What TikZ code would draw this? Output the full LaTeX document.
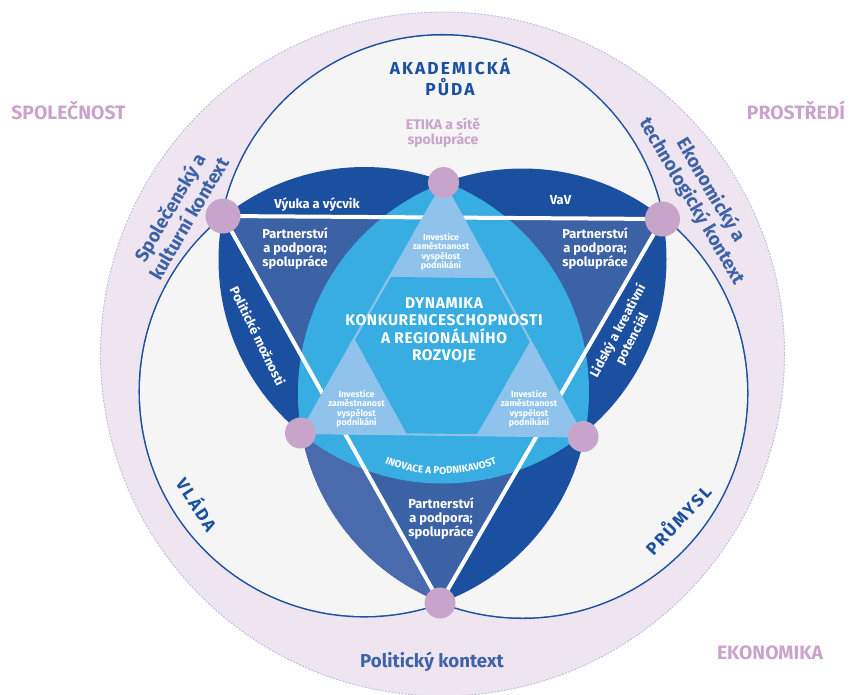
\documentclass[tikz,border=0pt]{standalone}
\usepackage{fontspec}
\setmainfont{Fira Sans}
\usetikzlibrary{calc,decorations.text}
\definecolor{dkb}{HTML}{1B4F9F}
\definecolor{mdb}{HTML}{3C62A6}
\definecolor{llb}{HTML}{4A6AAE}
\definecolor{cyanb}{HTML}{38ADE2}
\definecolor{trib}{HTML}{8FC3EB}
\definecolor{pinkn}{HTML}{C7A5CB}
\definecolor{lav}{HTML}{EFE5F1}
\definecolor{lavtxt}{HTML}{C9A3CC}
\definecolor{grayf}{HTML}{F5F5F5}
\definecolor{dashc}{HTML}{B9C3DF}
\definecolor{ctxc}{HTML}{3D62A6}
\newcommand{\myfs}[2]{\fontsize{#1}{#2}\selectfont}
\begin{document}
\begin{tikzpicture}[x=0.75pt,y=-0.75pt,
  ringtxt/.style={font=\bfseries\myfs{14.5}{16}, text=lavtxt, inner sep=0pt},
  bigtxt/.style={font=\bfseries\myfs{13}{15.75}\addfontfeatures{LetterSpace=12}, text=dkb, align=center, inner sep=0pt},
  ctxtxt/.style={font=\bfseries\myfs{14}{16.3}, text=ctxc, align=center, inner sep=0pt},
  wtxt/.style={font=\bfseries\myfs{9.7}{10.5}, text=white, align=center, inner sep=0pt},
  invtxt/.style={font=\bfseries\myfs{6.6}{7.1}, text=white, align=center, inner sep=0pt},
  dyntxt/.style={font=\bfseries\myfs{11.6}{13.1}\addfontfeatures{LetterSpace=4}, text=white, align=center, inner sep=0pt},
  etxt/.style={font=\bfseries\myfs{10.5}{11}, text=lavtxt, align=center, inner sep=0pt},
  bigdot/.style={circle, fill=pinkn, inner sep=0pt, minimum size=26.25pt},
  smalldot/.style={circle, fill=pinkn, inner sep=0pt, minimum size=23.25pt},
  wline/.style={draw=white, line width=3pt},
]
\useasboundingbox (0,0) rectangle (849,694);
% geometry
\coordinate (cA) at (442.5,259.5);
\coordinate (cV) at (364.5,391.5);
\coordinate (cP) at (522.5,393);
\def\RA{224}
\def\RV{224.5}
\def\RP{224.5}
\coordinate (oL) at (223,216);
\coordinate (oR) at (662.5,219);
\coordinate (oB) at (440,603);
\coordinate (iT) at (443.5,182.5);
\coordinate (iL) at (300.5,433);
\coordinate (iR) at (583,436.5);
\def\f{0.377}
% outer lavender disk
\draw[fill=lav, draw=dashc, line width=0.7pt, dash pattern=on 1.5pt off 1pt] (442.5,354) circle[radius=342];
% envelope of three circles
\draw[dkb, line width=2.3pt] (cA) circle[radius=\RA];
\draw[dkb, line width=2.3pt] (cV) circle[radius=\RV];
\draw[dkb, line width=2.3pt] (cP) circle[radius=\RP];
\fill[grayf] (cA) circle[radius=\RA];
\fill[grayf] (cV) circle[radius=\RV];
\fill[grayf] (cP) circle[radius=\RP];
% pairwise intersections (dark)
\begin{scope}
  \clip (cA) circle[radius=\RA];
  \fill[dkb] (cV) circle[radius=\RV];
  \fill[dkb] (cP) circle[radius=\RP];
\end{scope}
\begin{scope}
  \clip (cV) circle[radius=\RV];
  \fill[dkb] (cP) circle[radius=\RP];
\end{scope}
% lower-left piece
\begin{scope}
  \clip (cV) circle[radius=\RV];
  \clip (cP) circle[radius=\RP];
  \fill[llb] (oL) -- (oB) -- (440,700) -- (100,700) -- (100,216) -- cycle;
\end{scope}
% medium regions inside the white triangle
\begin{scope}
  \clip (oL) -- (oR) -- (oB) -- cycle;
  \begin{scope}
    \clip (cA) circle[radius=\RA];
    \fill[mdb] (cV) circle[radius=\RV];
    \fill[mdb] (cP) circle[radius=\RP];
  \end{scope}
  \begin{scope}
    \clip (cV) circle[radius=\RV];
    \fill[mdb] (cP) circle[radius=\RP];
  \end{scope}
\end{scope}
% triple intersection
\begin{scope}
  \clip (cA) circle[radius=\RA];
  \clip (cV) circle[radius=\RV];
  \fill[cyanb] (cP) circle[radius=\RP];
\end{scope}
% white triangle
\draw[wline] (oL) -- (oR) -- (oB) -- cycle;
% inner triangle
\fill[trib] (iT) -- (iL) -- (iR) -- cycle;
\fill[cyanb] ($(iT)!\f!(iL)$) -- ($(iT)!1-\f!(iL)$) -- ($(iL)!\f!(iR)$) -- ($(iL)!1-\f!(iR)$) -- ($(iR)!\f!(iT)$) -- ($(iR)!1-\f!(iT)$) -- cycle;
\draw[trib, line width=1.6pt, line join=round] (iT) -- (iL) -- (iR) -- cycle;
% dots
\node[bigdot] (dL) at (oL) {};
\node[bigdot] (dR) at (oR) {};
\node[smalldot] (dB) at (oB) {};
\node[smalldot] (dT) at (iT) {};
\node[smalldot] (dIL) at (iL) {};
\node[smalldot] (dIR) at (iR) {};
% outer labels
\node[ringtxt] (tSpol) at (68.5,110.5) {SPOLEČNOST};
\node[ringtxt] (tPros) at (796,110.5) {PROSTŘEDÍ};
\node[ringtxt] (tEkon) at (770,653) {EKONOMIKA};
% sector labels
\node[bigtxt] (tAka) at (450,77) {AKADEMICKÁ\\PŮDA};
\node[bigtxt, rotate=-57] (tVla) at (198,504) {VLÁDA};
\node[bigtxt, rotate=47] (tPru) at (677,519) {PRŮMYSL};
\node[etxt] (tEti) at (443,132.5) {ETIKA a sítě\\spolupráce};
% context labels
\node[ctxtxt, rotate=59.5] (tSk) at (179,212.5) {Společenský a\\kulturní kontext};
\node[ctxtxt, rotate=-59.5] (tEk) at (701.5,196) {Ekonomický a\\technologický kontext};
\node[ctxtxt] (tPk) at (432,662) {Politický kontext};
% band labels
\node[wtxt] (tVyu) at (317,204.5) {Výuka a výcvik};
\node[wtxt] (tVaV) at (560.5,200.5) {VaV};
\node[wtxt, rotate=-64] (tPol) at (258,336) {Politické možnosti};
\node[wtxt, rotate=62, font=\bfseries\myfs{9.7}{12}] (tLid) at (625,335) {Lidský a kreativní\\potenciál};
\node[wtxt] (tP1) at (295,249) {Partnerství\\a podpora;\\spolupráce};
\node[wtxt] (tP2) at (595,249) {Partnerství\\a podpora;\\spolupráce};
\node[wtxt] (tP3) at (441,519) {Partnerství\\a podpora;\\spolupráce};
% triangle labels
\node[invtxt] (tI1) at (441,252) {Investice\\zaměstnanost\\vyspělost\\podnikání};
\node[invtxt] (tI2) at (356.5,409) {Investice\\zaměstnanost\\vyspělost\\podnikání};
\node[invtxt] (tI3) at (529,409) {Investice\\zaměstnanost\\vyspělost\\podnikání};
\node[dyntxt] (tDyn) at (444,330.5) {DYNAMIKA\\KONKURENCESCHOPNOSTI\\A REGIONÁLNÍHO\\ROZVOJE};
% curved label
\path[decorate, decoration={text along path, text={|\bfseries\myfs{7.5}{8}|INOVACE A PODNIKAVOST}, text align=center, text color=white}]
  (441,320) ++(112:154) arc[start angle=112, end angle=68, radius=154];
\end{tikzpicture}
\end{document}
